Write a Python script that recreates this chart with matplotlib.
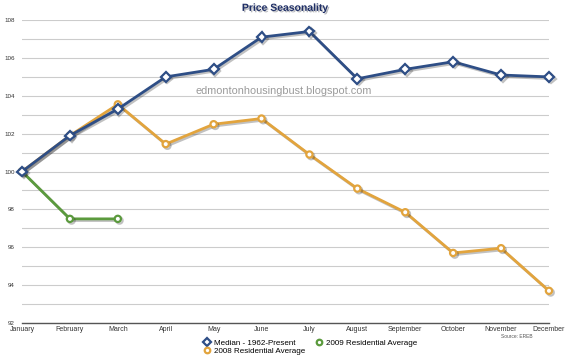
import matplotlib.pyplot as plt
import matplotlib.patheffects as pe

plt.rcParams['font.family'] = ['Liberation Sans', 'DejaVu Sans']

months = ['January', 'February', 'March', 'April', 'May', 'June', 'July',
          'August', 'September', 'October', 'November', 'December']
median = [100, 101.9, 103.3, 105.0, 105.4, 107.1, 107.4, 104.9, 105.4, 105.8, 105.1, 105.0]
avg2008 = [100, 101.9, 103.55, 101.45, 102.5, 102.8, 100.9, 99.1, 97.85, 95.7, 95.95, 93.7]
avg2009 = [100, 97.5, 97.5]

fig = plt.figure(figsize=(5.7, 3.59), dpi=100)
ax = fig.add_axes([0.0386, 0.1003, 0.9245, 0.8437])

shadow = [pe.SimpleLineShadow(offset=(1.2, -1.2), alpha=0.3, shadow_color='#333333'), pe.Normal()]

ax.plot(range(len(avg2009)), avg2009, color='#5b9a3d', lw=2, marker='o', ms=4.5,
        mfc='white', mew=1.6, clip_on=False, zorder=3, label='2009 Residential Average',
        path_effects=shadow)
ax.plot(range(len(avg2008)), avg2008, color='#e2a43d', lw=2, marker='o', ms=4.5,
        mfc='white', mew=1.6, clip_on=False, zorder=4, label='2008 Residential Average',
        path_effects=shadow)
ax.plot(range(len(median)), median, color='#2e4e86', lw=2, marker='D', ms=5,
        mfc='white', mew=1.6, clip_on=False, zorder=5, label='Median - 1962-Present',
        path_effects=shadow)

ax.set_xlim(0, 11)
ax.set_ylim(92, 108)
ax.set_yticks(range(92, 109, 2))
ax.set_yticks(range(92, 109, 1), minor=True)
ax.set_xticks(range(12))
ax.set_xticklabels(months, fontsize=5, color='#333333')
ax.tick_params(axis='y', labelsize=4.5, colors='#333333', length=0, pad=5, which='both')
ax.tick_params(axis='x', length=0, pad=2)
ax.grid(True, axis='y', which='both', color='#cccccc', lw=0.8)
for s in ['top', 'right', 'left']:
    ax.spines[s].set_visible(False)
ax.spines['bottom'].set_color('#555555')
ax.spines['bottom'].set_linewidth(1)

fig.text(0.5, 0.978, 'Price Seasonality', ha='center', va='center', fontsize=7.5,
         fontweight='bold', color='#1f2f66',
         path_effects=[pe.withSimplePatchShadow(offset=(1, -1), alpha=0.3)])
fig.text(0.497, 0.747, 'edmontonhousingbust.blogspot.com', ha='center', va='center',
         fontsize=7.8, color='#9a9a9a')
fig.text(0.907, 0.064, 'Source: EREB', ha='center', va='center', fontsize=3.5, color='#555555')

h, l = ax.get_legend_handles_labels()
order = [2, 1, 0]
fig.legend([h[i] for i in order], [l[i] for i in order], ncol=2, loc='center',
           bbox_to_anchor=(0.544, 0.033), frameon=False, fontsize=5.8, handlelength=1,
           columnspacing=1.2, labelspacing=0.1, handletextpad=0.4, borderpad=0)
for line in fig.legends[0].get_lines():
    line.set_linestyle('')
    line.set_markersize(4)
    line.set_path_effects([])

fig.savefig('out.png', dpi=100)
